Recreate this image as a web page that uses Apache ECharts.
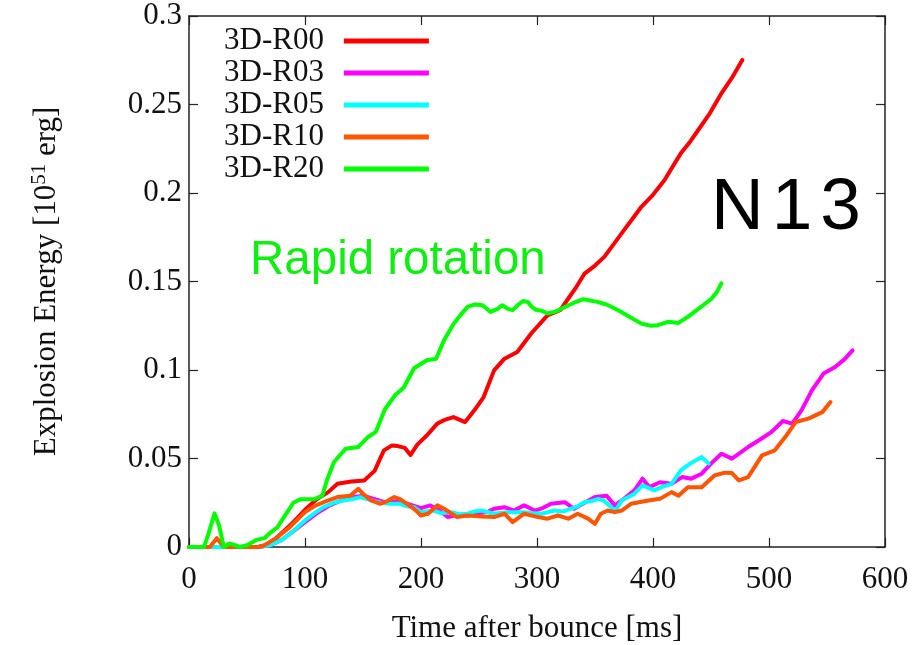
<!DOCTYPE html>
<html>
<head>
<meta charset="utf-8">
<script src="https://cdn.jsdelivr.net/npm/echarts@6/dist/echarts.min.js"></script>
<style>
  html, body { margin: 0; padding: 0; background: #fff; }
  #chart { width: 913px; height: 645px; }
</style>
</head>
<body>
<div id="chart"></div>
<script>
// Explosion energy versus time after bounce, N13 models
var seriesNames = ['3D-R00', '3D-R03', '3D-R05', '3D-R10', '3D-R20'];
var seriesColors = ['#ff0000', '#ff00ff', '#00ffff', '#ff5500', '#00ff00'];

var xTicks = [0, 100, 200, 300, 400, 500, 600];
var yTicks = [0, 0.05, 0.1, 0.15, 0.2, 0.25, 0.3];

// time [ms] and energy [1e51 erg] per model
var r00Time = [0, 20, 40, 60, 66, 72, 80, 90, 100, 110, 120, 128, 140, 151, 160, 168, 175, 180, 186, 191, 197, 205, 214, 221, 228, 238, 246, 254, 263, 272, 283, 295, 309, 320, 327, 334, 341, 350, 358, 366, 375, 383, 390, 400, 410, 417, 424, 432, 439, 449, 459, 468, 477];
var r00Energy = [0, 0, 0, 0, 0.001, 0.003, 0.008, 0.014, 0.021, 0.027, 0.031, 0.0357, 0.037, 0.0376, 0.043, 0.0546, 0.0574, 0.057, 0.056, 0.052, 0.058, 0.063, 0.0697, 0.072, 0.0734, 0.0706, 0.0772, 0.0847, 0.0998, 0.1064, 0.1102, 0.1206, 0.1309, 0.1338, 0.1404, 0.147, 0.1545, 0.159, 0.1639, 0.171, 0.179, 0.186, 0.1922, 0.199, 0.2073, 0.215, 0.2224, 0.229, 0.2356, 0.245, 0.2563, 0.265, 0.2752];

var r03Time = [0, 60, 70, 80, 90, 100, 110, 120, 130, 140, 150, 160, 170, 180, 190, 200, 208, 215, 223, 232, 240, 250, 258, 263, 272, 280, 289, 298, 305, 312, 324, 332, 341, 350, 360, 367, 373, 384, 391, 397, 406, 416, 425, 433, 442, 450, 459, 468, 476, 482, 491, 502, 512, 520, 528, 537, 547, 557, 565, 572];
var r03Energy = [0, 0, 0.001, 0.004, 0.009, 0.014, 0.019, 0.023, 0.026, 0.028, 0.029, 0.027, 0.025, 0.026, 0.024, 0.022, 0.0235, 0.021, 0.017, 0.018, 0.0178, 0.019, 0.020, 0.0216, 0.0225, 0.0206, 0.0235, 0.0206, 0.022, 0.0244, 0.0253, 0.0216, 0.025, 0.0282, 0.029, 0.0235, 0.0263, 0.032, 0.0386, 0.0338, 0.0366, 0.0357, 0.0395, 0.0386, 0.0414, 0.0471, 0.0527, 0.0499, 0.0536, 0.0565, 0.0602, 0.0649, 0.0712, 0.0697, 0.0772, 0.0885, 0.098, 0.1017, 0.106, 0.1111];

var r05Time = [0, 60, 70, 80, 87, 100, 108, 116, 125, 133, 140, 148, 159, 166, 174, 182, 188, 194, 200, 211, 218, 226, 233, 240, 246, 252, 263, 275, 289, 296, 304, 315, 322, 329, 335, 341, 347, 353, 358, 364, 367, 373, 384, 391, 401, 408, 416, 424, 432, 442, 448];
var r05Energy = [0, 0, 0.001, 0.004, 0.0074, 0.015, 0.019, 0.0225, 0.025, 0.0263, 0.027, 0.0282, 0.026, 0.025, 0.0244, 0.0244, 0.023, 0.0225, 0.0197, 0.0206, 0.019, 0.0197, 0.0185, 0.0188, 0.020, 0.0206, 0.0188, 0.0197, 0.0197, 0.019, 0.0188, 0.0206, 0.020, 0.0216, 0.023, 0.0253, 0.026, 0.0272, 0.026, 0.0225, 0.0197, 0.0263, 0.0301, 0.0348, 0.032, 0.034, 0.0357, 0.0433, 0.0471, 0.0508, 0.0471];

var r10Time = [0, 18, 24, 30, 40, 60, 65, 75, 87, 100, 108, 116, 128, 139, 146, 150, 157, 165, 171, 177, 182, 188, 195, 200, 206, 214, 220, 226, 231, 240, 252, 263, 272, 279, 289, 301, 309, 318, 327, 335, 344, 350, 355, 361, 367, 373, 381, 396, 406, 416, 422, 430, 442, 453, 462, 468, 474, 482, 494, 505, 514, 523, 534, 546, 553];
var r10Energy = [0, 0, 0.005, 0, 0, 0, 0.001, 0.005, 0.0112, 0.0197, 0.023, 0.0253, 0.0282, 0.029, 0.0329, 0.030, 0.0263, 0.0244, 0.026, 0.0282, 0.027, 0.0244, 0.021, 0.0178, 0.0188, 0.0235, 0.0216, 0.019, 0.0169, 0.0178, 0.0173, 0.0169, 0.0188, 0.014, 0.0188, 0.0169, 0.016, 0.0178, 0.016, 0.0188, 0.016, 0.0131, 0.0188, 0.0206, 0.0197, 0.0206, 0.0244, 0.0263, 0.0272, 0.031, 0.029, 0.0338, 0.0338, 0.0404, 0.042, 0.0418, 0.0376, 0.0395, 0.0518, 0.0546, 0.0621, 0.0706, 0.0725, 0.0762, 0.0819];

var r20Time = [0, 13, 17, 22, 26, 30, 35, 44, 50, 58, 65, 70, 76, 82, 90, 96, 102, 108, 115, 119, 125, 135, 146, 154, 161, 169, 178, 185, 194, 205, 213, 220, 228, 234, 240, 246, 253, 260, 266, 270, 275, 279, 284, 288, 292, 295, 299, 304, 309, 316, 324, 332, 340, 352, 360, 370, 380, 390, 398, 404, 413, 422, 430, 436, 444, 450, 455, 459];
var r20Energy = [0, 0, 0.008, 0.019, 0.012, 0, 0.002, 0, 0.001, 0.004, 0.005, 0.008, 0.011, 0.017, 0.025, 0.027, 0.027, 0.027, 0.029, 0.038, 0.048, 0.0555, 0.0565, 0.062, 0.065, 0.078, 0.086, 0.090, 0.101, 0.1055, 0.1064, 0.117, 0.126, 0.131, 0.1356, 0.137, 0.1366, 0.1328, 0.1345, 0.1366, 0.1345, 0.1338, 0.137, 0.139, 0.1385, 0.136, 0.134, 0.1335, 0.1319, 0.133, 0.1356, 0.138, 0.140, 0.1385, 0.137, 0.1338, 0.130, 0.1262, 0.125, 0.1253, 0.1272, 0.1266, 0.130, 0.133, 0.137, 0.140, 0.144, 0.149];

var times = [r00Time, r03Time, r05Time, r10Time, r20Time];
var energies = [r00Energy, r03Energy, r05Energy, r10Energy, r20Energy];

function pairs(t, e) {
  return t.map(function (v, i) { return [v, e[i]]; });
}

var serif = '"Liberation Serif", "Times New Roman", serif';
var sans = '"Liberation Sans", Arial, sans-serif';
var frameColor = '#222';
var fs = 31;

var chart = echarts.init(document.getElementById('chart'), null, { renderer: 'canvas' });

function xAxisDef(pos, showLabels) {
  return {
    type: 'value', position: pos,
    min: xTicks[0], max: xTicks[xTicks.length - 1], interval: xTicks[1] - xTicks[0],
    axisLine: { show: true, onZero: false, lineStyle: { color: frameColor, width: 1.5 } },
    axisTick: { show: true, inside: true, length: 9, lineStyle: { color: frameColor, width: 1.2 } },
    axisLabel: { show: showLabels, margin: 17, color: '#111', fontFamily: serif, fontSize: fs },
    splitLine: { show: false },
    name: showLabels ? 'Time after bounce [ms]' : '',
    nameLocation: 'middle', nameGap: 66,
    nameTextStyle: { color: '#111', fontFamily: serif, fontSize: fs }
  };
}

function yAxisDef(pos, showLabels) {
  return {
    type: 'value', position: pos,
    min: yTicks[0], max: yTicks[yTicks.length - 1], interval: yTicks[1] - yTicks[0],
    axisLine: { show: true, onZero: false, lineStyle: { color: frameColor, width: 1.5 } },
    axisTick: { show: true, inside: true, length: 9, lineStyle: { color: frameColor, width: 1.2 } },
    axisLabel: { show: showLabels, margin: 7, color: '#111', fontFamily: serif, fontSize: fs },
    splitLine: { show: false },
    name: showLabels ? 'Explosion Energy [10{sup|51} erg]' : '',
    nameLocation: 'middle', nameGap: 124,
    nameTextStyle: {
      color: '#111', fontFamily: serif, fontSize: fs, lineHeight: 36,
      rich: { sup: { fontFamily: serif, fontSize: 21, verticalAlign: 'top', lineHeight: 36, color: '#111' } }
    }
  };
}

var option = {
  backgroundColor: '#ffffff',
  animation: false,
  grid: { left: 189, right: 28, top: 16, bottom: 98, containLabel: false, outerBoundsMode: 'none' },
  xAxis: [xAxisDef('bottom', true), xAxisDef('top', false)],
  yAxis: [yAxisDef('left', true), yAxisDef('right', false)],
  legend: {
    orient: 'vertical', left: 219, top: 20, align: 'right',
    itemWidth: 85, itemHeight: 5, itemGap: 0,
    icon: 'rect',
    data: seriesNames.map(function (n, i) {
      return { name: n, itemStyle: { color: seriesColors[i] } };
    }),
    textStyle: { fontFamily: serif, fontSize: fs, color: '#111', lineHeight: 32, padding: [0, 15, 0, 0] }
  },
  graphic: [
    { type: 'text', left: 250, top: 237, style: { text: 'Rapid rotation', fontFamily: sans, fontSize: 47.5, fill: '#11ee11' } },
    {
      type: 'text', left: 711, top: 172,
      style: {
        text: '{a|N}{a|1}3', fontFamily: sans, fontSize: 73, fill: '#000',
        rich: { a: { fontFamily: sans, fontSize: 73, fill: '#000', padding: [0, 8, 0, 0] } }
      }
    }
  ],
  series: seriesNames.map(function (n, i) {
    return {
      name: n, type: 'line', xAxisIndex: 0, yAxisIndex: 0,
      data: pairs(times[i], energies[i]),
      showSymbol: false, symbol: 'none', smooth: false,
      lineStyle: { color: seriesColors[i], width: 4, join: 'round', cap: 'round' },
      itemStyle: { color: seriesColors[i] },
      z: 2 + i
    };
  })
};

chart.setOption(option);
</script>
</body>
</html>
